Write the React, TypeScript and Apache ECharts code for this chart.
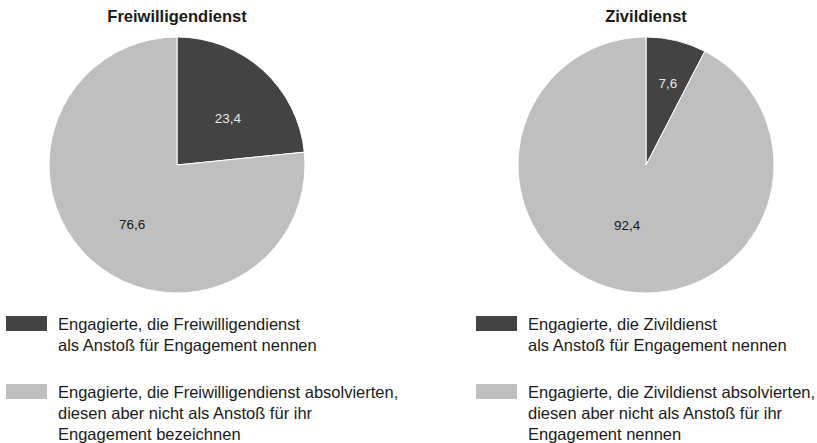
import React, { useEffect, useRef } from "react";
import * as echarts from "echarts";

const titles = ["Freiwilligendienst", "Zivildienst"];
const sliceNames = [
  [
    "Engagierte, die Freiwilligendienst\nals Anstoß für Engagement nennen",
    "Engagierte, die Freiwilligendienst absolvierten,\ndiesen aber nicht als Anstoß für ihr\nEngagement bezeichnen",
  ],
  [
    "Engagierte, die Zivildienst\nals Anstoß für Engagement nennen",
    "Engagierte, die Zivildienst absolvierten,\ndiesen aber nicht als Anstoß für ihr\nEngagement nennen",
  ],
];
const freiwilligendienstValues = [23.4, 76.6];
const zivildienstValues = [7.6, 92.4];
const seriesValues = [freiwilligendienstValues, zivildienstValues];
const sliceColors = ["#434343", "#bfbfbf"];
const labelColors = ["#e6e6e6", "#1a1a1a"];

const FONT = "'Liberation Sans', Arial, Helvetica, sans-serif";

// small label nudges (style only)
const labelNudges = [
  [{ dx: 6, dy: 3 }, { dx: 0, dy: 10 }],
  [{ dx: 6, dy: -16 }, { dx: -3, dy: -5 }],
];

export default function App() {
  const ref = useRef<HTMLDivElement>(null);
  useEffect(() => {
    if (!ref.current) return;
    const chart = echarts.init(ref.current, null, { renderer: "svg" });
    const centersX = [177, 646];
    const legendX = [6, 476];
    const legendTops = [313, 381];

    const graphic: any[] = [];
    seriesValues.forEach((_, i) => {
      sliceNames[i].forEach((name, j) => {
        graphic.push({
          type: "rect",
          left: legendX[i],
          top: legendTops[j] + 3,
          shape: { width: 41, height: 15 },
          style: { fill: sliceColors[j] },
          silent: true,
        });
        graphic.push({
          type: "text",
          left: legendX[i] + 52,
          top: legendTops[j],
          style: {
            text: name,
            fill: "#1a1a1a",
            font: `16.5px ${FONT}`,
            lineHeight: 21,
          },
          silent: true,
        });
      });
    });

    chart.setOption({
      animation: false,
      textStyle: { fontFamily: FONT },
      title: titles.map((t, i) => ({
        text: t,
        left: centersX[i],
        top: 7,
        padding: 0,
        textAlign: "center",
        textStyle: { fontSize: 16.5, fontWeight: "bold", color: "#1a1a1a", fontFamily: FONT },
      })),
      graphic,
      series: seriesValues.map((vals, i) => ({
        type: "pie",
        center: [centersX[i], 165],
        radius: 128,
        startAngle: 90,
        clockwise: true,
        silent: true,
        label: {
          show: true,
          position: "inside",
          fontSize: 13.5,
          fontFamily: FONT,
          formatter: (p: any) => String(p.value).replace(".", ","),
        },
        labelLayout: (p: any) => labelNudges[i][p.dataIndex],
        labelLine: { show: false },
        itemStyle: { borderColor: "#ffffff", borderWidth: 1 },
        data: vals.map((v, j) => ({
          name: sliceNames[i][j],
          value: v,
          itemStyle: { color: sliceColors[j] },
          label: { color: labelColors[j] },
        })),
      })),
    });
    return () => chart.dispose();
  }, []);
  return (
    <div
      ref={ref}
      style={{ position: "fixed", left: 0, top: 0, width: 817, height: 443, background: "#fff" }}
    />
  );
}
